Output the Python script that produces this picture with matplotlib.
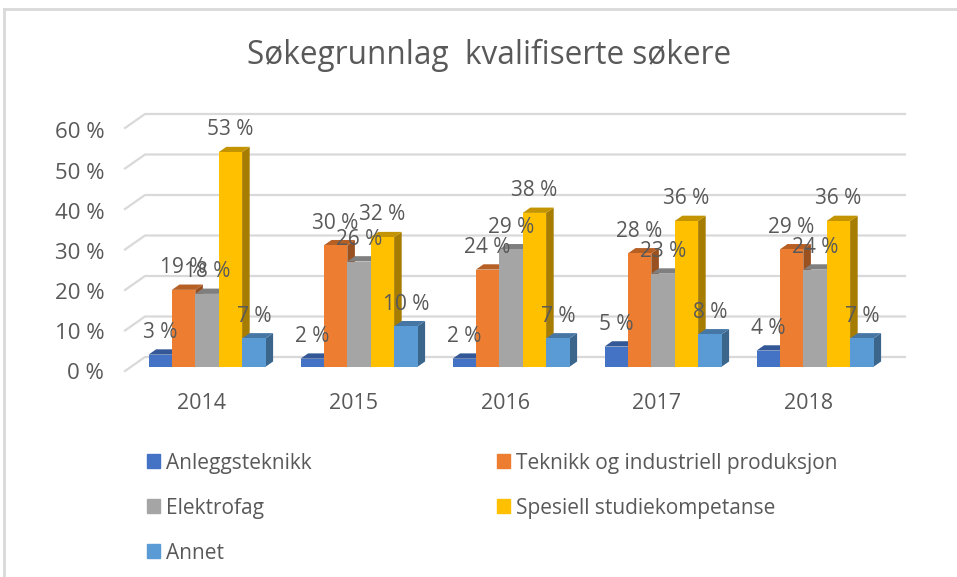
import matplotlib

matplotlib.use("Agg")
import matplotlib.pyplot as plt
from matplotlib.lines import Line2D
from matplotlib.patches import Patch

years = ["2014", "2015", "2016", "2017", "2018"]
series_names = [
    "Anleggsteknikk",
    "Teknikk og industriell produksjon",
    "Elektrofag",
    "Spesiell studiekompetanse",
    "Annet",
]
anlegg = [3, 2, 2, 5, 4]
teknikk = [19, 30, 24, 28, 29]
elektro = [18, 26, 29, 23, 24]
spesiell = [53, 32, 38, 36, 36]
annet = [7, 10, 7, 8, 7]
series_values = [anlegg, teknikk, elektro, spesiell, annet]
series_colors = ["#4472C4", "#ED7D31", "#A5A5A5", "#FFC000", "#5B9BD5"]
y_ticks = [0, 10, 20, 30, 40, 50, 60]

W, H = 957, 577
TEXT = "#595959"
GRID = "#D9D9D9"

# depth of the floor in data units, 20 px across and 14 px up
DEPTH_X = 20 / 152
DEPTH_Y = 14 / 4.05
BAR_W = 23.4 / 152


def project(x, y, depth):
    return x + depth * DEPTH_X, y + depth * DEPTH_Y


def shade(color, factor):
    rgb = matplotlib.colors.to_rgb(color)
    return tuple(c * factor for c in rgb)


def draw_bar(ax, x, value, color):
    d0, d1 = 0.3, 0.68
    left, right = x - BAR_W / 2, x + BAR_W / 2
    corners_top = [project(left, value, d0), project(right, value, d0),
                   project(right, value, d1), project(left, value, d1)]
    corners_side = [project(right, 0, d0), project(right, 0, d1),
                    project(right, value, d1), project(right, value, d0)]
    corners_front = [project(left, 0, d0), project(right, 0, d0),
                     project(right, value, d0), project(left, value, d0)]
    ax.fill(*zip(*corners_side), color=shade(color, 0.65), lw=0, zorder=3, clip_on=False)
    ax.fill(*zip(*corners_top), color=shade(color, 0.77), lw=0, zorder=3, clip_on=False)
    ax.fill(*zip(*corners_front), color=color, lw=0, zorder=3, clip_on=False)


plt.rcParams["font.family"] = ["Open Sans", "DejaVu Sans"]

fig = plt.figure(figsize=(W / 100, H / 100), dpi=100)
ax = fig.add_axes([125 / W, (H - 371) / H, 760 / W, 243 / H])
ax.set_xlim(-0.5, 4.5)
ax.set_ylim(0, 60)
for spine in ax.spines.values():
    spine.set_visible(False)

# frame of the screenshot
fig.add_artist(Line2D([4 / W, 4 / W], [0, 1 - 9 / H], color=GRID, lw=2))
fig.add_artist(Line2D([4 / W, 1], [1 - 9 / H, 1 - 9 / H], color=GRID, lw=2))

# gridlines on the back wall and their slanted part on the side wall
for tick in y_ticks:
    x0, y0 = project(-0.5, tick, 0)
    x1, y1 = project(-0.5, tick, 1)
    x2, y2 = project(4.5, tick, 1)
    ax.plot([x0, x1, x2], [y0, y1, y2], color=GRID, lw=1.6, zorder=1, clip_on=False)

ax.set_xticks(range(len(years)), years)
# the y labels sit a little tighter than the gridlines in the original
ax.set_yticks([t * 0.99 for t in y_ticks], [f"{t} %" for t in y_ticks])
ax.tick_params(length=0, labelcolor=TEXT)
ax.tick_params(axis="x", pad=16, labelsize=15.5)
ax.tick_params(axis="y", pad=15, labelsize=16)

for i in range(len(years)):
    for j, values in enumerate(series_values):
        x = i + (j - 2) * BAR_W
        draw_bar(ax, x, values[i], series_colors[j])

for i in range(len(years)):
    for j, values in enumerate(series_values):
        x = i + (j - 2) * BAR_W + 0.3 * DEPTH_X
        ax.text(x, values[i] + 0.3 * DEPTH_Y + 5.5, f"{values[i]} %", ha="center", va="center",
                fontsize=15, color=TEXT, zorder=5)

fig.text(489 / W, 1 - 55 / H, "Søkegrunnlag  kvalifiserte søkere", ha="center", va="center",
         fontsize=22.7, color=TEXT)

# matplotlib fills legend columns first, so the order here gives the picture's rows
legend_order = [0, 2, 4, 1, 3]
handles = [Patch(color=series_colors[k]) for k in legend_order]
labels = [series_names[k] for k in legend_order]
fig.legend(handles, labels, ncol=2, frameon=False, loc="upper left",
           bbox_to_anchor=(130 / W, 1 - 436 / H), fontsize=15, labelcolor=TEXT,
           handlelength=0.62, handleheight=0.67, handletextpad=0.3, labelspacing=1.15,
           columnspacing=8.9, borderpad=0.3)

fig.savefig("out.png", dpi=100)
